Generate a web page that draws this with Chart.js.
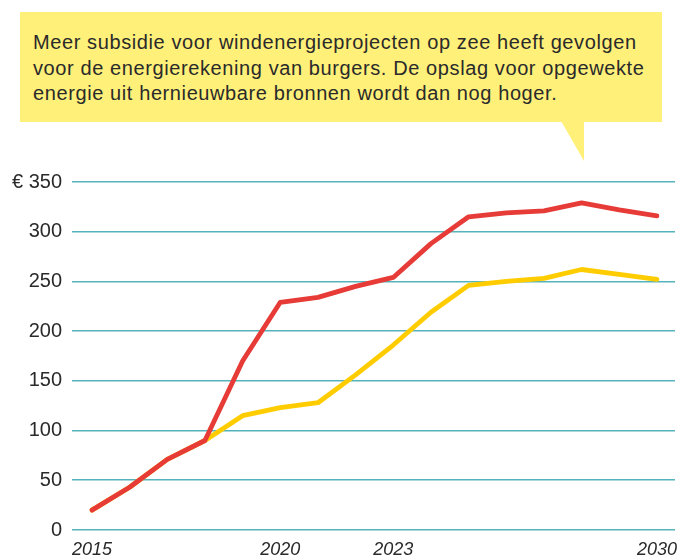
<!DOCTYPE html>
<html>
<head>
<meta charset="utf-8">
<script src="https://cdn.jsdelivr.net/npm/chart.js@4"></script>
<style>
  html, body { margin: 0; padding: 0; background: #fff; }
  #wrap { position: relative; width: 679px; height: 558px; }
  #c { position: absolute; left: 0; top: 0; }
  .callout {
    position: absolute; left: 20px; top: 12px; width: 642px; height: 110px;
    background: #fff07a; box-sizing: border-box; padding: 18px 0 0 13px;
    font-family: "Liberation Sans", Arial, sans-serif; font-size: 20px; line-height: 25.5px;
    letter-spacing: 0.6px; color: #2a2a2a;
  }
  .tail {
    position: absolute; left: 561px; top: 121px; width: 0; height: 0;
    border-right: 23px solid #fff07a; border-top: 0; border-bottom: 40px solid transparent;
  }
</style>
</head>
<body>
<div id="wrap">
  <canvas id="c" width="679" height="558"></canvas>
  <div class="callout">Meer subsidie voor windenergieprojecten op zee heeft gevolgen<br>voor de energierekening van burgers. De opslag voor opgewekte<br>energie uit hernieuwbare bronnen wordt dan nog hoger.</div>
  <div class="tail"></div>
</div>
<script>
const jaren = [2015, 2016, 2017, 2018, 2019, 2020, 2021, 2022, 2023, 2024, 2025, 2026, 2027, 2028, 2029, 2030];
// met extra subsidie (rood)
const metSubsidie = [20, 43, 71, 90, 170, 229, 234, 245, 254, 288, 315, 319, 321, 329, 322, 316];
// zonder (geel)
const zonderSubsidie = [20, 43, 71, 90, 115, 123, 128, 156, 186, 219, 246, 250, 253, 262, 257, 252];
const jaarLabels = [2015, 2020, 2023, 2030];

const punten = vals => jaren.map((j, i) => ({ x: j, y: vals[i] }));

const ctx = document.getElementById('c').getContext('2d');
new Chart(ctx, {
    type: 'line',
    data: {
        datasets: [{
            label: 'Met subsidie',
            data: punten(metSubsidie),
            borderColor: '#e63b36',
            borderWidth: 4.8,
            borderCapStyle: 'round',
            borderJoinStyle: 'round',
            pointRadius: 0,
            tension: 0
        }, {
            label: 'Zonder',
            data: punten(zonderSubsidie),
            borderColor: '#ffcc00',
            borderWidth: 4.8,
            borderCapStyle: 'round',
            borderJoinStyle: 'round',
            pointRadius: 0,
            tension: 0
        }]
    },
    options: {
        responsive: false,
        animation: false,
        layout: { padding: { top: 182, right: 4, bottom: 0, left: 0 } },
        plugins: { legend: { display: false }, tooltip: { enabled: false } },
        scales: {
            x: {
                type: 'linear',
                min: 2014.47,
                max: 2030.48,
                afterBuildTicks: axis => { axis.ticks = jaarLabels.map(v => ({ value: v })); },
                afterFit: axis => {
                    axis.height = 28;
                    axis.paddingLeft = 0;
                    axis.paddingRight = 0;
                },
                grid: { display: false, drawTicks: false },
                border: { display: false },
                ticks: {
                    autoSkip: false,
                    maxRotation: 0,
                    padding: 9,
                    color: '#2a2a2a',
                    font: { family: '"Liberation Sans", Arial, sans-serif', size: 18, style: 'italic' },
                    callback: v => String(v)
                }
            },
            y: {
                min: 0,
                max: 350,
                afterFit: axis => {
                    axis.width = 72;
                    axis.paddingTop = 0;
                    axis.paddingBottom = 0;
                },
                grid: { color: '#55b4bb', lineWidth: 1.6, drawTicks: false },
                border: { display: false },
                ticks: {
                    stepSize: 50,
                    padding: 10,
                    color: '#2a2a2a',
                    font: { family: '"Liberation Sans", Arial, sans-serif', size: 20 },
                    callback: v => v === 350 ? '€ 350' : v
                }
            }
        }
    }
});
</script>
</body>
</html>
